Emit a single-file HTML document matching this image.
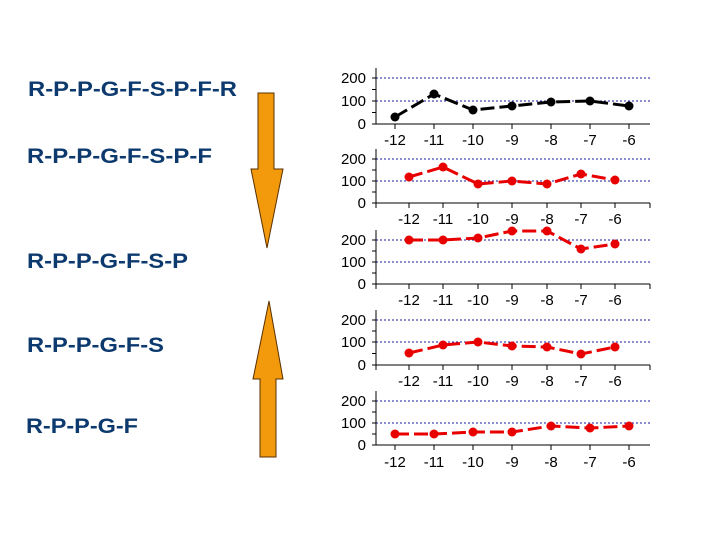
<!DOCTYPE html>
<html><head><meta charset="utf-8"><style>
html,body{margin:0;padding:0;background:#fff;width:720px;height:540px;overflow:hidden}
</style></head><body>
<svg width="720" height="540" viewBox="0 0 720 540" xmlns="http://www.w3.org/2000/svg">
<g font-family="Liberation Sans, Arial, sans-serif" font-weight="bold" font-size="21" fill="#0d3a6e">
<text x="28" y="96" textLength="209" lengthAdjust="spacingAndGlyphs">R-P-P-G-F-S-P-F-R</text>
<text x="27" y="163" textLength="185" lengthAdjust="spacingAndGlyphs">R-P-P-G-F-S-P-F</text>
<text x="27" y="268" textLength="161" lengthAdjust="spacingAndGlyphs">R-P-P-G-F-S-P</text>
<text x="27" y="352" textLength="137" lengthAdjust="spacingAndGlyphs">R-P-P-G-F-S</text>
<text x="26" y="433" textLength="112" lengthAdjust="spacingAndGlyphs">R-P-P-G-F</text>
</g>
<g fill="#f29a0c" stroke="#5a3000" stroke-width="1">
<polygon points="258,93 274,93 274,169 283,169 267,248 251,169 258,169"/>
<polygon points="269,301 283,379 276,379 276,457 260,457 260,379 253,379"/>
</g>
<g font-family="Liberation Sans, Arial, sans-serif" font-size="15" fill="#000">
<!-- chart1 -->
<g>
<line x1="376" y1="78" x2="650" y2="78" stroke="#1a1aa0" stroke-dasharray="2 2"/>
<line x1="376" y1="101" x2="650" y2="101" stroke="#1a1aa0" stroke-dasharray="2 2"/>
<path d="M376 68V124H650M372 78H376M372 89.5H376M372 101H376M372 112.5H376M372 124H376M395 124v5M434 124v5M473 124v5M512 124v5M551 124v5M590 124v5M629 124v5" stroke="#000" fill="none"/>
<text x="366" y="83" text-anchor="end">200</text><text x="366" y="106" text-anchor="end">100</text><text x="366" y="129" text-anchor="end">0</text>
<g text-anchor="middle"><text x="395" y="145">-12</text><text x="434" y="145">-11</text><text x="473" y="145">-10</text><text x="512" y="145">-9</text><text x="551" y="145">-8</text><text x="590" y="145">-7</text><text x="629" y="145">-6</text></g>
<polyline points="395,117 434,94 473,110 512,106 551,102 590,101 629,106" fill="none" stroke="#000" stroke-width="3" stroke-dasharray="14 5" stroke-linejoin="round"/>
<g fill="#000"><circle cx="395" cy="117" r="4.5"/><circle cx="434" cy="94" r="4.5"/><circle cx="473" cy="110" r="4.5"/><circle cx="512" cy="106" r="4.5"/><circle cx="551" cy="102" r="4.5"/><circle cx="590" cy="101" r="4.5"/><circle cx="629" cy="106" r="4.5"/></g>
</g>
<!-- chart2 -->
<g>
<line x1="376" y1="159" x2="650" y2="159" stroke="#1a1aa0" stroke-dasharray="2 2"/>
<line x1="376" y1="181" x2="650" y2="181" stroke="#1a1aa0" stroke-dasharray="2 2"/>
<path d="M376 149V203H650M372 159H376M372 170H376M372 181H376M372 192H376M372 203H376M376 203v5M409 203v5M443 203v5M478 203v5M512 203v5M547 203v5M581 203v5M615 203v5M650 203v5" stroke="#000" fill="none"/>
<text x="366" y="164" text-anchor="end">200</text><text x="366" y="186" text-anchor="end">100</text><text x="366" y="208" text-anchor="end">0</text>
<g text-anchor="middle"><text x="409" y="224">-12</text><text x="443" y="224">-11</text><text x="478" y="224">-10</text><text x="512" y="224">-9</text><text x="547" y="224">-8</text><text x="581" y="224">-7</text><text x="615" y="224">-6</text></g>
<polyline points="409,177 443,167 478,184 512,181 547,184 581,174 615,180" fill="none" stroke="#e80000" stroke-width="3" stroke-dasharray="14 5" stroke-linejoin="round"/>
<g fill="#e80000"><circle cx="409" cy="177" r="4.5"/><circle cx="443" cy="167" r="4.5"/><circle cx="478" cy="184" r="4.5"/><circle cx="512" cy="181" r="4.5"/><circle cx="547" cy="184" r="4.5"/><circle cx="581" cy="174" r="4.5"/><circle cx="615" cy="180" r="4.5"/></g>
</g>
<!-- chart3 -->
<g>
<line x1="376" y1="240" x2="650" y2="240" stroke="#1a1aa0" stroke-dasharray="2 2"/>
<line x1="376" y1="262" x2="650" y2="262" stroke="#1a1aa0" stroke-dasharray="2 2"/>
<path d="M376 230V284H650M372 240H376M372 251H376M372 262H376M372 273H376M372 284H376M376 284v5M409 284v5M443 284v5M478 284v5M512 284v5M547 284v5M581 284v5M615 284v5M650 284v5" stroke="#000" fill="none"/>
<text x="366" y="245" text-anchor="end">200</text><text x="366" y="267" text-anchor="end">100</text><text x="366" y="289" text-anchor="end">0</text>
<g text-anchor="middle"><text x="409" y="305">-12</text><text x="443" y="305">-11</text><text x="478" y="305">-10</text><text x="512" y="305">-9</text><text x="547" y="305">-8</text><text x="581" y="305">-7</text><text x="615" y="305">-6</text></g>
<polyline points="409,240 443,240 478,238 512,231 547,231 581,249 615,244" fill="none" stroke="#e80000" stroke-width="3" stroke-dasharray="14 5" stroke-linejoin="round"/>
<g fill="#e80000"><circle cx="409" cy="240" r="4.5"/><circle cx="443" cy="240" r="4.5"/><circle cx="478" cy="238" r="4.5"/><circle cx="512" cy="231" r="4.5"/><circle cx="547" cy="231" r="4.5"/><circle cx="581" cy="249" r="4.5"/><circle cx="615" cy="244" r="4.5"/></g>
</g>
<!-- chart4 -->
<g>
<line x1="376" y1="320" x2="650" y2="320" stroke="#1a1aa0" stroke-dasharray="2 2"/>
<line x1="376" y1="342" x2="650" y2="342" stroke="#1a1aa0" stroke-dasharray="2 2"/>
<path d="M376 310V365H650M372 320H376M372 331H376M372 342H376M372 353.5H376M372 365H376M376 365v5M409 365v5M443 365v5M478 365v5M512 365v5M547 365v5M581 365v5M615 365v5M650 365v5" stroke="#000" fill="none"/>
<text x="366" y="325" text-anchor="end">200</text><text x="366" y="347" text-anchor="end">100</text><text x="366" y="370" text-anchor="end">0</text>
<g text-anchor="middle"><text x="409" y="386">-12</text><text x="443" y="386">-11</text><text x="478" y="386">-10</text><text x="512" y="386">-9</text><text x="547" y="386">-8</text><text x="581" y="386">-7</text><text x="615" y="386">-6</text></g>
<polyline points="409,353 443,345 478,342 512,346 547,347 581,354 615,347" fill="none" stroke="#e80000" stroke-width="3" stroke-dasharray="14 5" stroke-linejoin="round"/>
<g fill="#e80000"><circle cx="409" cy="353" r="4.5"/><circle cx="443" cy="345" r="4.5"/><circle cx="478" cy="342" r="4.5"/><circle cx="512" cy="346" r="4.5"/><circle cx="547" cy="347" r="4.5"/><circle cx="581" cy="354" r="4.5"/><circle cx="615" cy="347" r="4.5"/></g>
</g>
<!-- chart5 -->
<g>
<line x1="376" y1="401" x2="650" y2="401" stroke="#1a1aa0" stroke-dasharray="2 2"/>
<line x1="376" y1="423" x2="650" y2="423" stroke="#1a1aa0" stroke-dasharray="2 2"/>
<path d="M376 391V445H650M372 401H376M372 412H376M372 423H376M372 434H376M372 445H376M395 445v5M434 445v5M473 445v5M512 445v5M551 445v5M590 445v5M629 445v5" stroke="#000" fill="none"/>
<text x="366" y="406" text-anchor="end">200</text><text x="366" y="428" text-anchor="end">100</text><text x="366" y="450" text-anchor="end">0</text>
<g text-anchor="middle"><text x="395" y="467">-12</text><text x="434" y="467">-11</text><text x="473" y="467">-10</text><text x="512" y="467">-9</text><text x="551" y="467">-8</text><text x="590" y="467">-7</text><text x="629" y="467">-6</text></g>
<polyline points="395,434 434,434 473,432 512,432 551,426 590,428 629,426" fill="none" stroke="#e80000" stroke-width="3" stroke-dasharray="14 5" stroke-linejoin="round"/>
<g fill="#e80000"><circle cx="395" cy="434" r="4.5"/><circle cx="434" cy="434" r="4.5"/><circle cx="473" cy="432" r="4.5"/><circle cx="512" cy="432" r="4.5"/><circle cx="551" cy="426" r="4.5"/><circle cx="590" cy="428" r="4.5"/><circle cx="629" cy="426" r="4.5"/></g>
</g>
</g>
</svg>
</body></html>
